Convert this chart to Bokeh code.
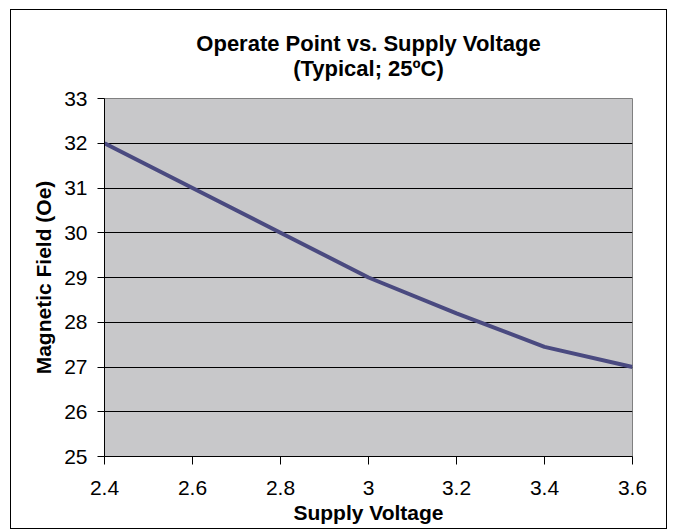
from bokeh.plotting import figure
from bokeh.models import Title, Range1d, FixedTicker
from bokeh.embed import file_html
from bokeh.resources import INLINE

voltage = [2.4, 2.6, 2.8, 3.0, 3.2, 3.4, 3.6]
field = [32.0, 31.0, 30.0, 29.0, 28.2, 27.45, 27.0]
x_ticks = [2.4, 2.6, 2.8, 3.0, 3.2, 3.4, 3.6]
y_ticks = [25, 26, 27, 28, 29, 30, 31, 32, 33]
x_labels = ["2.4", "2.6", "2.8", "3", "3.2", "3.4", "3.6"]
title_lines = ["Operate Point vs. Supply Voltage", "(Typical; 25ºC)"]

FONT = "Liberation Sans"

p = figure(width=657, height=520, output_backend="svg", toolbar_location=None,
           x_range=Range1d(2.4, 3.6), y_range=Range1d(25, 33))
p.styles = {"border": "1px solid black", "margin-left": "10px", "margin-top": "9px"}
p.min_border_left = 93
p.min_border_right = 36
p.min_border_top = 88
p.min_border_bottom = 74
p.background_fill_color = "#c8c8ca"
p.border_fill_color = "white"
p.outline_line_color = "#808080"
p.outline_line_width = 1

p.line(voltage, field, line_color="#4a4a80", line_width=4)

p.add_layout(Title(text=title_lines[1], align="center", text_font=FONT,
                   text_font_size="22px", text_font_style="bold",
                   text_color="black", standoff=36), "above")
p.add_layout(Title(text=title_lines[0], align="center", text_font=FONT,
                   text_font_size="22px", text_font_style="bold",
                   text_color="black", standoff=-40), "above")

p.xgrid.visible = False
p.ygrid.grid_line_color = "black"
p.ygrid.grid_line_width = 1

for ax in (p.xaxis[0], p.yaxis[0]):
    ax.axis_line_color = "black"
    ax.major_tick_line_color = "black"
    ax.major_tick_in = 0
    ax.minor_tick_line_color = None
    ax.major_label_text_font = FONT
    ax.major_label_text_font_size = "21px"
    ax.major_label_text_color = "black"
    ax.axis_label_text_font = FONT
    ax.axis_label_text_font_size = "21px"
    ax.axis_label_text_font_style = "bold"
    ax.axis_label_text_color = "black"

p.xaxis[0].ticker = FixedTicker(ticks=x_ticks)
p.yaxis[0].ticker = FixedTicker(ticks=y_ticks)
p.xaxis[0].major_label_overrides = dict(zip(x_ticks, x_labels))
p.xaxis[0].axis_label = "Supply Voltage"
p.yaxis[0].axis_label = "Magnetic Field (Oe)"
p.xaxis[0].major_tick_out = 8
p.yaxis[0].major_tick_out = 7
p.xaxis[0].major_label_standoff = 16
p.yaxis[0].major_label_standoff = 10
p.xaxis[0].axis_label_standoff = 3
p.yaxis[0].axis_label_standoff = 6

open("out.html", "w").write(file_html(p, INLINE))
